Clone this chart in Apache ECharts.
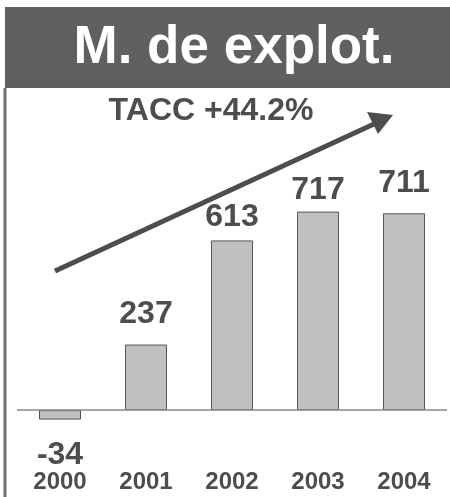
<!DOCTYPE html>
<html><head><meta charset="utf-8">
<script src="https://cdn.jsdelivr.net/npm/echarts@6/dist/echarts.min.js"></script>
<style>html,body{margin:0;padding:0;background:#fff}#c{width:450px;height:497px}</style>
</head><body><div id="c"></div>
<script>
const categories = ['2000', '2001', '2002', '2003', '2004'];
const values = [-34, 237, 613, 717, 711];
const titleText = 'M. de explot.';
const growthText = 'TACC +44.2%';

const FONT = 'Liberation Sans, Arial, sans-serif';
const TXT = '#4d4d4d';
const labelGap = [20, 14, 7, 5, 14];
const chart = echarts.init(document.getElementById('c'), null, {renderer: 'canvas'});
chart.setOption({
  animation: false,
  backgroundColor: '#fff',
  grid: {left: 17, right: 3, top: 100, bottom: 37},
  xAxis: {
    type: 'category', data: categories,
    axisLine: {show: false, onZero: false}, axisTick: {show: false},
    axisLabel: {color: TXT, fontFamily: FONT, fontWeight: 'bold', fontSize: 24, margin: 10}
  },
  yAxis: {type: 'value', min: -180, max: 1120, show: false, splitLine: {show: false}},
  series: [{
    type: 'bar', barWidth: 42,
    data: values.map((v, i) => ({
      value: v,
      label: v < 0 ? {position: 'bottom', distance: labelGap[i]} : {distance: labelGap[i]}
    })),
    itemStyle: {color: '#c0c0c0', borderColor: '#555', borderWidth: 1},
    label: {
      show: true, position: 'top', color: TXT, fontFamily: FONT, fontWeight: 'bold', fontSize: 32,
      formatter: p => String(p.value)
    },
    markLine: {
      silent: true, symbol: 'none', label: {show: false},
      lineStyle: {color: '#888', width: 1.5, type: 'solid'},
      data: [{yAxis: 0}]
    }
  }],
  graphic: [
    {type: 'rect', left: 5, top: 7, shape: {width: 445, height: 81}, style: {fill: '#606060'}},
    {type: 'line', shape: {x1: 5, y1: 88, x2: 5, y2: 497}, style: {stroke: '#707070', lineWidth: 3}},
    {type: 'text', x: 234, y: 48, style: {text: titleText, fill: '#fff', font: 'bold 53px ' + FONT, align: 'center', verticalAlign: 'middle'}},
    {type: 'text', x: 211, y: 111, style: {text: growthText, fill: TXT, font: 'bold 32px ' + FONT, align: 'center', verticalAlign: 'middle'}},
    {type: 'line', shape: {x1: 55, y1: 271, x2: 374, y2: 124}, style: {stroke: TXT, lineWidth: 5}},
    {type: 'polygon', shape: {points: [[393, 115], [367, 112], [378, 134]]}, style: {fill: TXT}}
  ]
});
</script></body></html>
